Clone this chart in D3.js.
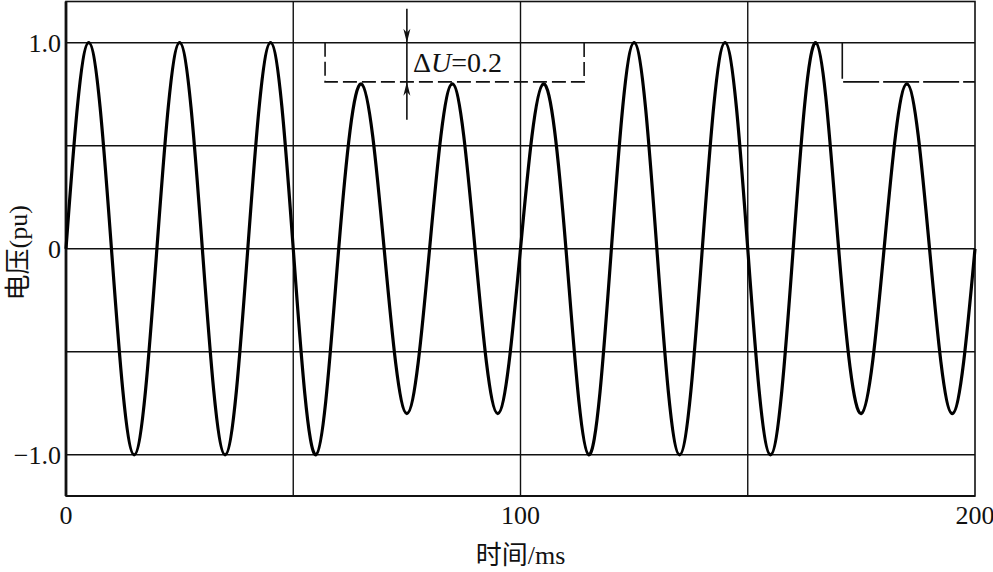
<!DOCTYPE html>
<html>
<head>
<meta charset="utf-8">
<script src="https://cdn.jsdelivr.net/npm/d3@7"></script>
<style>
  body { margin: 0; background: #fff; }
  text { font-family: "Liberation Serif", "Noto Sans CJK SC", serif; fill: #111; }
</style>
</head>
<body>
<script>
// half-cycle extrema of the voltage trace (ms, pu)
const peakTimes  = [5, 15, 25, 35, 45, 55, 65, 75, 85, 95, 105, 115, 125, 135, 145, 155, 165, 175, 185, 195];
const peakValues = [1, -1, 1, -1, 1, -1, 0.8, -0.8, 0.8, -0.8, 0.8, -1, 1, -1, 1, -1, 1, -0.8, 0.8, -0.8];
const zeroTimes  = [0, 10, 20, 30, 40, 50, 60, 70, 80, 90, 100, 110, 120, 130, 140, 150, 160, 170, 180, 190, 200];

const xTicks = [0, 100, 200];
const yTicks = [1, 0, -1];
const yTickLabels = ["1.0", "0", "\u22121.0"];
const xGrid = [50, 100, 150];
const yGrid = [1, 0.5, 0, -0.5, -1];

// dashed ΔU brackets: [start ms, end ms]
const brackets = [[57, 114], [170.8, 200]];
const dU = {t: 75, hi: 1.0, lo: 0.81, label: "0.2"};

const W = 993, H = 572;
const m = {left: 66, right: 18, top: 1.5, bottom: 76};

const svg = d3.select("body").append("svg")
  .attr("width", W).attr("height", H);

const x = d3.scaleLinear().domain([0, 200]).range([m.left, W - m.right]);
const y = d3.scaleLinear().domain([-1.2, 1.2]).range([H - m.bottom, m.top]);

// grid
svg.append("g").selectAll("line").data(yGrid).enter().append("line")
  .attr("x1", x(0)).attr("x2", x(200))
  .attr("y1", d => y(d)).attr("y2", d => y(d))
  .attr("stroke", "#111").attr("stroke-width", 1.4);
svg.append("g").selectAll("line").data(xGrid).enter().append("line")
  .attr("x1", d => x(d)).attr("x2", d => x(d))
  .attr("y1", y(1.2)).attr("y2", y(-1.2))
  .attr("stroke", "#111").attr("stroke-width", 1.4);

// frame
svg.append("rect")
  .attr("x", x(0)).attr("y", y(1.2))
  .attr("width", x(200) - x(0)).attr("height", y(-1.2) - y(1.2))
  .attr("fill", "none").attr("stroke", "#111").attr("stroke-width", 1.6);
svg.append("line")
  .attr("x1", x(0)).attr("x2", x(0)).attr("y1", y(1.2)).attr("y2", y(-1.2))
  .attr("stroke", "#111").attr("stroke-width", 2.8);
svg.append("line")
  .attr("x1", x(0)).attr("x2", x(200)).attr("y1", y(-1.2)).attr("y2", y(-1.2))
  .attr("stroke", "#111").attr("stroke-width", 2.2);

// brackets
brackets.forEach(b => {
  const pts = [[b[0], dU.hi], [b[0], dU.lo], [b[1], dU.lo], [b[1], dU.hi]];
  svg.append("path")
    .attr("d", d3.line().x(d => x(d[0])).y(d => y(d[1]))(b[1] < 200 ? pts : pts.slice(0, 3)))
    .attr("fill", "none").attr("stroke", "#111").attr("stroke-width", 1.6)
    .attr("stroke-dasharray", b[1] < 200 ? "14,5" : "36,4");
});

// voltage trace
const pts = zeroTimes.map(t => [t, 0])
  .concat(peakTimes.map((t, i) => [t, peakValues[i]]))
  .sort((a, b) => a[0] - b[0]);
svg.append("path")
  .attr("d", d3.line().x(d => x(d[0])).y(d => y(d[1])).curve(d3.curveNatural)(pts))
  .attr("fill", "none").attr("stroke", "#000").attr("stroke-width", 3.2);

// ΔU arrows
const ax = x(dU.t);
svg.append("line")
  .attr("x1", ax).attr("x2", ax).attr("y1", y(dU.hi) - 34).attr("y2", y(dU.lo) + 38)
  .attr("stroke", "#111").attr("stroke-width", 1.6);
svg.append("path")
  .attr("d", `M${ax},${y(dU.hi)} l-3.5,-14 l3.5,4 l3.5,-4 z`)
  .attr("fill", "#111");
svg.append("path")
  .attr("d", `M${ax},${y(dU.lo)} l-3.5,14 l3.5,-4 l3.5,4 z`)
  .attr("fill", "#111");
const lbl = svg.append("text")
  .attr("x", ax + 6).attr("y", (y(dU.hi) + y(dU.lo)) / 2 + 10)
  .attr("font-size", 28);
lbl.append("tspan").text("\u0394");
lbl.append("tspan").attr("font-style", "italic").text("U");
lbl.append("tspan").text("=" + dU.label);

// tick labels
svg.append("g").selectAll("text").data(yTicks).enter().append("text")
  .attr("x", x(0) - 5).attr("y", d => y(d) + 9)
  .attr("text-anchor", "end").attr("font-size", 26)
  .text((d, i) => yTickLabels[i]);
svg.append("g").selectAll("text").data(xTicks).enter().append("text")
  .attr("x", d => x(d)).attr("y", y(-1.2) + 28)
  .attr("text-anchor", "middle")
  .attr("font-size", 26)
  .text(d => d);

// axis titles
svg.append("text")
  .attr("x", x(100)).attr("y", H - 8)
  .attr("text-anchor", "middle").attr("font-size", 26)
  .text("时间/ms");
svg.append("text")
  .attr("transform", `translate(27,${y(0) + 4}) rotate(-90)`)
  .attr("text-anchor", "middle").attr("font-size", 26)
  .text("电压(pu)");
</script>
</body>
</html>
